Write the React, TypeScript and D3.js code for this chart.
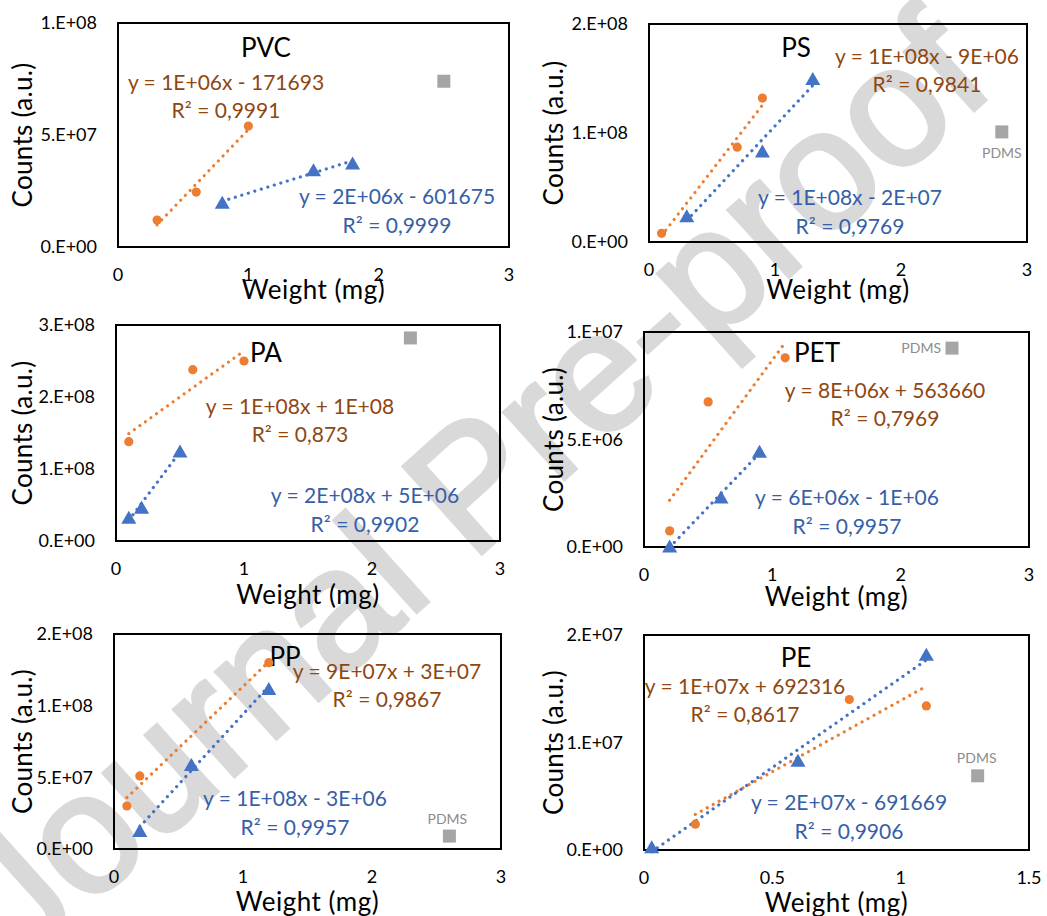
import React from 'react';
import * as d3 from 'd3';

const W = 1047;
const H = 916;

// ---- data ----
const titles = ['PVC', 'PS', 'PA', 'PET', 'PP', 'PE'];

const pvcOrangeX = [0.3, 0.6, 1.0];
const pvcOrangeY = [1.2e7, 2.45e7, 5.4e7];
const pvcBlueX = [0.8, 1.5, 1.8];
const pvcBlueY = [2.0e7, 3.45e7, 3.75e7];
const pvcPdms = [2.5, 7.4e7];

const psOrangeX = [0.1, 0.7, 0.9];
const psOrangeY = [8e6, 8.7e7, 1.32e8];
const psBlueX = [0.3, 0.9, 1.3];
const psBlueY = [2.4e7, 8.35e7, 1.5e8];
const psPdms = [2.8, 1.01e8];

const paOrangeX = [0.1, 0.6, 1.0];
const paOrangeY = [1.38e8, 2.38e8, 2.5e8];
const paBlueX = [0.1, 0.2, 0.5];
const paBlueY = [3.3e7, 4.7e7, 1.25e8];
const paPdms = [2.3, 2.82e8];

const petOrangeX = [0.2, 0.5, 1.1];
const petOrangeY = [7.5e5, 6.75e6, 8.8e6];
const petBlueX = [0.2, 0.6, 0.9];
const petBlueY = [5e4, 2.33e6, 4.45e6];
const petPdms = [2.4, 9.25e6];

const ppOrangeX = [0.1, 0.2, 1.2];
const ppOrangeY = [3.0e7, 5.1e7, 1.3e8];
const ppBlueX = [0.2, 0.6, 1.2];
const ppBlueY = [1.3e7, 5.9e7, 1.12e8];
const ppPdms = [2.6, 9e6];

const peOrangeX = [0.2, 0.8, 1.1];
const peOrangeY = [2.4e6, 1.4e7, 1.34e7];
const peBlueX = [0.03, 0.6, 1.1];
const peBlueY = [3e5, 8.35e6, 1.82e7];
const pePdms = [1.3, 6.9e6];

const orangeEq = [
  ['y = 1E+06x - 171693', 'R² = 0,9991'],
  ['y = 1E+08x - 9E+06', 'R² = 0,9841'],
  ['y = 1E+08x + 1E+08', 'R² = 0,873'],
  ['y = 8E+06x + 563660', 'R² = 0,7969'],
  ['y = 9E+07x + 3E+07', 'R² = 0,9867'],
  ['y = 1E+07x + 692316', 'R² = 0,8617'],
];
const blueEq = [
  ['y = 2E+06x - 601675', 'R² = 0,9999'],
  ['y = 1E+08x - 2E+07', 'R² = 0,9769'],
  ['y = 2E+08x + 5E+06', 'R² = 0,9902'],
  ['y = 6E+06x - 1E+06', 'R² = 0,9957'],
  ['y = 1E+08x - 3E+06', 'R² = 0,9957'],
  ['y = 2E+07x - 691669', 'R² = 0,9906'],
];

const yMax = [1e8, 2e8, 3e8, 1e7, 1.5e8, 2e7];
const xMax = [3, 3, 3, 3, 3, 1.5];
const yTicks = [
  [0, 5e7, 1e8],
  [0, 1e8, 2e8],
  [0, 1e8, 2e8, 3e8],
  [0, 5e6, 1e7],
  [0, 5e7, 1e8, 1.5e8],
  [0, 1e7, 2e7],
];
const yTickLabels = [
  ['0.E+00', '5.E+07', '1.E+08'],
  ['0.E+00', '1.E+08', '2.E+08'],
  ['0.E+00', '1.E+08', '2.E+08', '3.E+08'],
  ['0.E+00', '5.E+06', '1.E+07'],
  ['0.E+00', '5.E+07', '1.E+08', '2.E+08'],
  ['0.E+00', '1.E+07', '2.E+07'],
];
const xTicks = [
  [0, 1, 2, 3], [0, 1, 2, 3], [0, 1, 2, 3],
  [0, 1, 2, 3], [0, 1, 2, 3], [0, 0.5, 1, 1.5],
];
const showPdmsLabel = [false, true, false, true, true, true];

// ---- layout (pixels) ----
// box: [left, right, top, bottom]; label offsets relative to box top-left
const layout = [
  { box: [118, 509, 23, 247], title: [148, 25], eqO: [108, 59], eqB: [279, 173], xTitle: 43, yTitle: 23, pdms: null },
  { box: [649, 1027, 24, 242], title: [147, 24], eqO: [278, 32], eqB: [201, 173], xTitle: 48, yTitle: 554, pdms: [0, 21, 'middle'] },
  { box: [116, 500, 325, 541], title: [150, 28], eqO: [184, 81], eqB: [249, 170], xTitle: 54, yTitle: 23, pdms: null },
  { box: [644, 1029, 332, 547], title: [173, 21], eqO: [241, 58], eqB: [203, 165], xTitle: 50, yTitle: 554, pdms: [-11, 0, 'end'] },
  { box: [114, 501, 634, 849], title: [171, 23], eqO: [273, 37], eqB: [181, 164], xTitle: 53, yTitle: 23, pdms: [-2, -17, 'middle'] },
  { box: [644, 1029, 635, 850], title: [152, 23], eqO: [101, 51], eqB: [205, 167], xTitle: 53, yTitle: 554, pdms: [-1, -18, 'middle'] },
];

const orangeSeries = [
  [pvcOrangeX, pvcOrangeY], [psOrangeX, psOrangeY], [paOrangeX, paOrangeY],
  [petOrangeX, petOrangeY], [ppOrangeX, ppOrangeY], [peOrangeX, peOrangeY],
];
const blueSeries = [
  [pvcBlueX, pvcBlueY], [psBlueX, psBlueY], [paBlueX, paBlueY],
  [petBlueX, petBlueY], [ppBlueX, ppBlueY], [peBlueX, peBlueY],
];
const pdmsPoints = [pvcPdms, psPdms, paPdms, petPdms, ppPdms, pePdms];

const FONT = 'Lato, "Liberation Sans", Arial, sans-serif';
const ORANGE = '#ED7D31';
const BLUE = '#4472C4';
const GREY = '#A5A5A5';
const ORANGE_TXT = '#8F4712';
const BLUE_TXT = '#3560A8';
const WATERMARK = '#D9D9D9';

// least squares trend line between min and max x
const trend = (xs: number[], ys: number[]) => {
  const mx = d3.mean(xs)!;
  const my = d3.mean(ys)!;
  const sxx = d3.sum(xs, (v) => (v - mx) ** 2);
  const sxy = d3.sum(xs.map((v, i) => (v - mx) * (ys[i] - my)));
  const b = sxy / sxx;
  const a = my - b * mx;
  return (d3.extent(xs) as number[]).map((v) => [v, a + b * v]);
};

const triSize = 98;
const triPath = d3.symbol(d3.symbolTriangle, triSize)()!;
const triShift = Math.sqrt(triSize / (Math.sqrt(3) * 3)) / 2;
const squarePath = d3.symbol(d3.symbolSquare, 169)()!;

function Panel({ i }: { i: number }) {
  const l = layout[i];
  const [left, right, top, bottom] = l.box;
  const x = d3.scaleLinear().domain([0, xMax[i]]).range([left, right]);
  const y = d3.scaleLinear().domain([0, yMax[i]]).range([bottom, top]);
  const line = d3.line<number[]>().x((d) => x(d[0])).y((d) => y(d[1]));
  const [ox, oy] = orangeSeries[i];
  const [bx, by] = blueSeries[i];
  const pd = pdmsPoints[i];
  const eqFs = 21;
  const cap = (fs: number) => fs * 0.36;

  return (
    <g>
      <rect x={left} y={top} width={right - left} height={bottom - top} fill="none" stroke="#000" strokeWidth={2} />
      {yTicks[i].map((t, k) => (
        <text key={'yt' + k} x={left - 21} y={y(t) + cap(18)} textAnchor="end" fontSize={18} fill="#000">
          {yTickLabels[i][k]}
        </text>
      ))}
      {xTicks[i].map((t, k) => (
        <text key={'xt' + k} x={x(t)} y={bottom + 27.5 + cap(18)} textAnchor="middle" fontSize={18} fill="#000">
          {t}
        </text>
      ))}
      <text x={(left + right) / 2} y={bottom + l.xTitle + cap(26)} textAnchor="middle" fontSize={26} letterSpacing={0.5} fill="#000">
        Weight (mg)
      </text>
      <text
        transform={`translate(${l.yTitle + cap(26)},${(top + bottom) / 2}) rotate(-90)`}
        textAnchor="middle"
        fontSize={26}
        letterSpacing={0.3}
        fill="#000"
      >
        Counts (a.u.)
      </text>
      <text x={left + l.title[0]} y={top + l.title[1] + cap(26)} textAnchor="middle" fontSize={26} fill="#000">
        {titles[i]}
      </text>

      <path d={line(trend(ox, oy))!} fill="none" stroke={ORANGE} strokeWidth={3.2} strokeLinecap="round" strokeDasharray="0.01 6.8" />
      <path d={line(trend(bx, by))!} fill="none" stroke={BLUE} strokeWidth={3.2} strokeLinecap="round" strokeDasharray="0.01 6.8" />

      {ox.map((v, k) => (
        <circle key={'o' + k} cx={x(v)} cy={y(oy[k])} r={4.6} fill={ORANGE} />
      ))}
      {bx.map((v, k) => (
        <path key={'b' + k} d={triPath} transform={`translate(${x(v)},${y(by[k]) + triShift})`} fill={BLUE} />
      ))}
      <path d={squarePath} transform={`translate(${x(pd[0])},${y(pd[1])})`} fill={GREY} />
      {showPdmsLabel[i] && l.pdms && (
        <text
          x={x(pd[0]) + l.pdms[0]}
          y={y(pd[1]) + l.pdms[1] + cap(14)}
          textAnchor={l.pdms[2] as any}
          fontSize={14}
          fill="#8C8C8C"
        >
          PDMS
        </text>
      )}

      {orangeEq[i].map((s, k) => (
        <text key={'eo' + k} x={left + l.eqO[0]} y={top + l.eqO[1] + k * 28.5 + cap(eqFs)} textAnchor="middle" fontSize={eqFs} fill={ORANGE_TXT}>
          {s}
        </text>
      ))}
      {blueEq[i].map((s, k) => (
        <text key={'eb' + k} x={left + l.eqB[0]} y={top + l.eqB[1] + k * 29.5 + cap(eqFs)} textAnchor="middle" fontSize={eqFs} fill={BLUE_TXT}>
          {s}
        </text>
      ))}
    </g>
  );
}

export default function App() {
  return (
    <svg
      width={W}
      height={H}
      viewBox={`0 0 ${W} ${H}`}
      style={{ position: 'absolute', left: 0, top: 0, fontFamily: FONT }}
    >
      <rect width={W} height={H} fill="#fff" />
      <text
        transform="translate(510,528) rotate(-42)"
        textAnchor="middle"
        fontSize={170}
        fontFamily='"Liberation Sans", Arial, sans-serif'
        fill={WATERMARK}
        stroke={WATERMARK}
        strokeWidth={4}
      >
        Journal Pre-proof
      </text>
      {titles.map((_, i) => (
        <Panel key={i} i={i} />
      ))}
    </svg>
  );
}
